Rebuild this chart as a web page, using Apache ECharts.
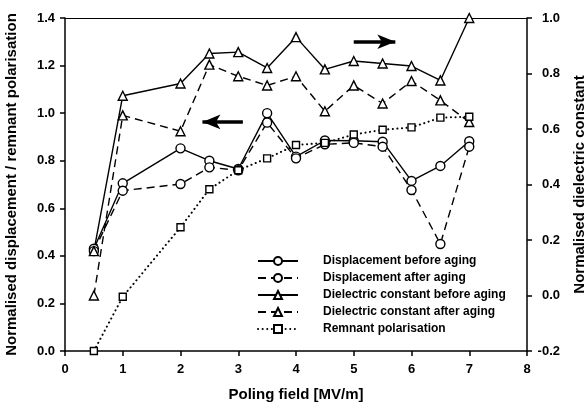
<!DOCTYPE html>
<html><head><meta charset="utf-8">
<script src="https://cdn.jsdelivr.net/npm/echarts@6/dist/echarts.min.js"></script>
<style>html,body{margin:0;padding:0;background:#fff}#c{width:587px;height:403px}</style>
</head><body><div id="c"></div>
<script>
var field = [0.5,1,2,2.5,3,3.5,4,4.5,5,5.5,6,6.5,7];
var dispBefore = [0.43,0.705,0.852,0.80,0.765,1.0,0.817,0.885,0.884,0.88,0.715,0.778,0.882];
var dispAfter  = [0.42,0.674,0.702,0.772,0.76,0.96,0.81,0.869,0.875,0.859,0.677,0.45,0.859];
var dielBefore = [0.16,0.72,0.764,0.872,0.877,0.82,0.931,0.815,0.845,0.836,0.827,0.775,1.0];
var dielAfter  = [0.0,0.649,0.592,0.832,0.79,0.757,0.79,0.664,0.757,0.692,0.773,0.703,0.625];
var remnant    = [0.0,0.228,0.52,0.68,0.76,0.81,0.866,0.875,0.91,0.93,0.94,0.981,0.985];
var names = ['Displacement before aging','Displacement after aging','Dielectric constant before aging','Dielectric constant after aging','Remnant polarisation'];

function pairs(v){ return field.map(function(x,i){ return [x, v[i]]; }); }
var FONT = 'Liberation Sans, Arial, sans-serif';
var dash = [8,5];
function mk(name, data, yIdx, symbol, size, type, extra){
  var s = {
    name: name, type: 'line', data: pairs(data), yAxisIndex: yIdx,
    symbol: symbol, symbolSize: size, showSymbol: true, z: 3,
    lineStyle: {color: '#000', width: 1.4, type: type, cap: 'butt'},
    itemStyle: {color: '#fff', borderColor: '#000', borderWidth: 1.4},
    emphasis: {disabled: true}, animation: false
  };
  if (extra) for (var k in extra) s[k] = extra[k];
  return s;
}
var arrowStyle = {color:'#000', width: 3.5, type:'solid'};
var titleStyle = {fontFamily: FONT, fontWeight: 'bold', fontSize: 15, color: '#000'};
var labelBase = {fontFamily: FONT, fontWeight: 'bold', fontSize: 13, color: '#000'};
var chart = echarts.init(document.getElementById('c'), null, {renderer:'canvas'});
chart.setOption({
  animation: false,
  grid: {left: 65, right: 60, top: 18, bottom: 52, containLabel: false, outerBoundsMode: 'none'},
  legend: {
    data: names, orient: 'vertical', left: 252, top: 250,
    itemWidth: 40, itemHeight: 10, itemGap: 5,
    textStyle: {fontFamily: FONT, fontWeight: 'bold', fontSize: 12, color: '#000', padding: [0,0,0,20]},
    inactiveColor: '#000'
  },
  xAxis: [{
    type: 'value', min: 0, max: 8, interval: 1,
    name: 'Poling field [MV/m]', nameLocation: 'middle', nameGap: 36,
    nameTextStyle: titleStyle,
    axisLine: {onZero: false, lineStyle: {color: '#000', width: 1.5}},
    axisTick: {show: true, inside: false, length: 5, lineStyle: {color: '#000', width: 1.5}},
    axisLabel: Object.assign({margin: 12}, labelBase),
    splitLine: {show: false}
  },{
    type: 'value', min: 0, max: 8, position: 'top',
    axisLine: {onZero: false, lineStyle: {color: '#000', width: 1.2}},
    axisTick: {show: false}, axisLabel: {show: false}, splitLine: {show: false}
  }],
  yAxis: [{
    type: 'value', min: 0, max: 1.4, interval: 0.2, position: 'left',
    name: 'Normalised displacement / remnant polarisation', nameLocation: 'middle', nameGap: 46,
    nameTextStyle: titleStyle,
    axisLine: {show: true, onZero: false, lineStyle: {color: '#000', width: 1.5}},
    axisTick: {show: true, inside: false, length: 5, lineStyle: {color: '#000', width: 1.5}},
    axisLabel: Object.assign({margin: 10, formatter: function(v){ return v.toFixed(1); }}, labelBase),
    splitLine: {show: false}
  },{
    type: 'value', min: -0.2, max: 1.0, interval: 0.2, position: 'right',
    name: 'Normalised dielectric constant', nameLocation: 'middle', nameGap: 45, nameRotate: 90,
    nameTextStyle: titleStyle,
    axisLine: {show: true, onZero: false, lineStyle: {color: '#000', width: 1.5}},
    axisTick: {show: true, inside: false, length: 5, lineStyle: {color: '#000', width: 1.5}},
    axisLabel: Object.assign({margin: 33, align: 'right', formatter: function(v){ return v.toFixed(1); }}, labelBase),
    splitLine: {show: false}
  }],
  series: [
    mk(names[0], dispBefore, 0, 'circle', 9, 'solid', {
      markLine: {silent: true, symbol: ['none','arrow'], symbolSize: [11,18], label: {show: false},
        lineStyle: arrowStyle, animation: false,
        data: [[{coord: [3.08, 0.963]}, {coord: [2.38, 0.963]}],
               [{coord: [5.0, 1.30]}, {coord: [5.72, 1.30]}]]}
    }),
    mk(names[1], dispAfter, 0, 'circle', 9, dash),
    mk(names[2], dielBefore, 1, 'triangle', 9, 'solid'),
    mk(names[3], dielAfter, 1, 'triangle', 9, dash),
    mk(names[4], remnant, 0, 'rect', 7, [1.5,4], {lineStyle: {color:'#000', width: 2, type: [0.1,4.5], cap: 'round'}})
  ]
});
</script></body></html>
